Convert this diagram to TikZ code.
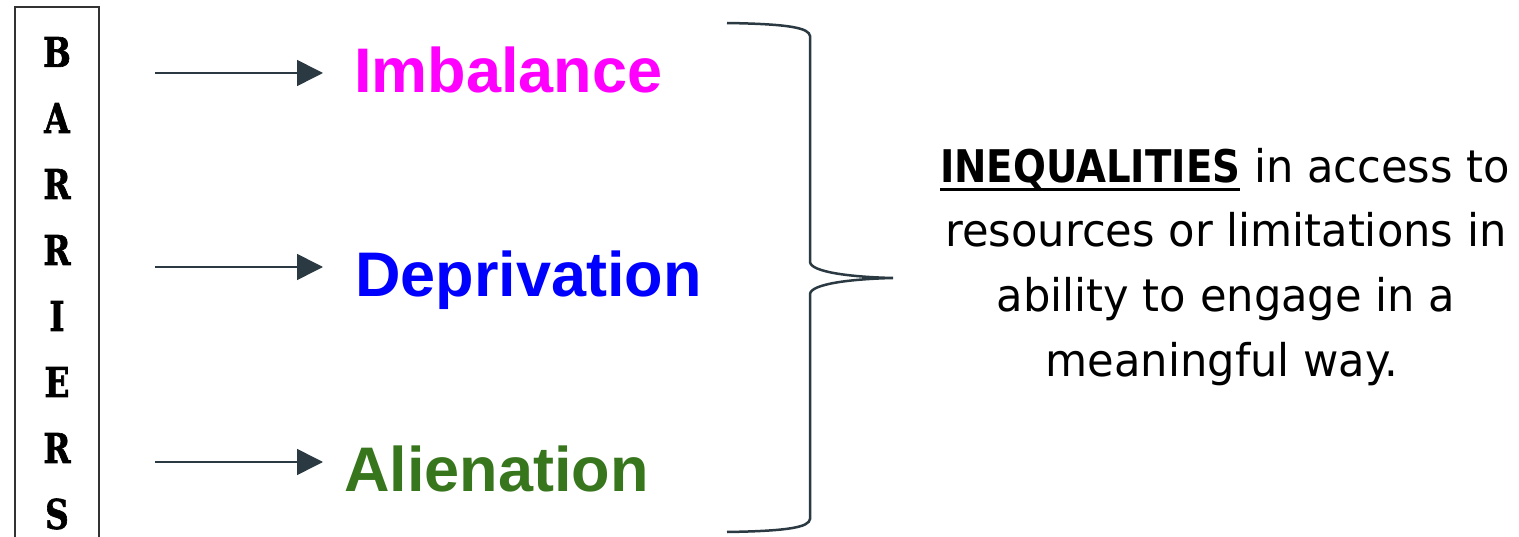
\documentclass[tikz,border=0pt]{standalone}
\usepackage{fontspec}
\usetikzlibrary{arrows.meta}
\setmainfont{Liberation Sans}
\newfontfamily\headfont{Liberation Sans}
\newfontfamily\bodyfont[FakeStretch=0.96]{DejaVu Sans}
\newfontfamily\bodybold[FakeStretch=0.86]{DejaVu Sans Bold}
\newfontfamily\letterfont[FakeStretch=0.8,FakeBold=1.5]{DejaVu Serif Bold}
\definecolor{linecol}{HTML}{2B3A42}
\definecolor{mag}{HTML}{FF00FF}
\definecolor{blu}{HTML}{0000FF}
\definecolor{grn}{HTML}{38761D}
\newcommand\myul[1]{\setbox0\hbox{#1}\rlap{\rule[-8pt]{\wd0}{3pt}}\box0}
\begin{document}
\begin{tikzpicture}[x=1pt,y=-1pt,
  letter/.style={inner sep=0pt,font=\letterfont\fontsize{41}{41}\selectfont},
  head/.style={inner sep=0pt,anchor=base west,font=\headfont\bfseries\fontsize{63}{63}\selectfont},
  bline/.style={inner sep=0pt,anchor=base,font=\bodyfont\fontsize{45}{45}\selectfont},
  arr/.style={draw=linecol,line width=1.6pt,-{Triangle[length=26pt,width=26pt]}}]
\useasboundingbox (0,0) rectangle (1519,537);
\fill[white] (0,0) rectangle (1519,537);
% box
\draw[line width=2.8pt,draw=black!80] (15,7) rectangle (99,560);
\foreach \L [count=\i from 0] in {B,A,R,R,I,E,R,S}{
  \node[letter] (L\i) at (57,52+66*\i) {\L};
}
% arrows
\coordinate (s1) at (155,73); \coordinate (e1) at (323,73);
\coordinate (s2) at (155,267); \coordinate (e2) at (323,267);
\coordinate (s3) at (155,462); \coordinate (e3) at (323,462);
\draw[arr] (s1) -- (e1);
\draw[arr] (s2) -- (e2);
\draw[arr] (s3) -- (e3);
% heads
\node[head,text=mag] (imb) at (354,93) {Imbalance};
\node[head,text=blu] (dep) at (355,297) {Deprivation};
\node[head,text=grn] (ali) at (344,491) {Alienation};
% brace
\draw[linecol,line width=2.5pt] (727,23) .. controls (790,24) and (809,28) .. (810,36)
  -- (810,262) .. controls (811,272) and (850,277) .. (893,278)
  .. controls (850,279) and (811,284) .. (810,294)
  -- (810,519) .. controls (809,527) and (790,531) .. (727,532);
% text
\node[bline] (t1) at (1225,183) {\myul{\bodybold INEQUALITIES}\ in access to};
\node[bline] (t2) at (1226,247) {resources or limitations in};
\node[bline] (t3) at (1226,312) {ability to engage in a};
\node[bline] (t4) at (1222,377) {meaningful way.};
\end{tikzpicture}
\end{document}
